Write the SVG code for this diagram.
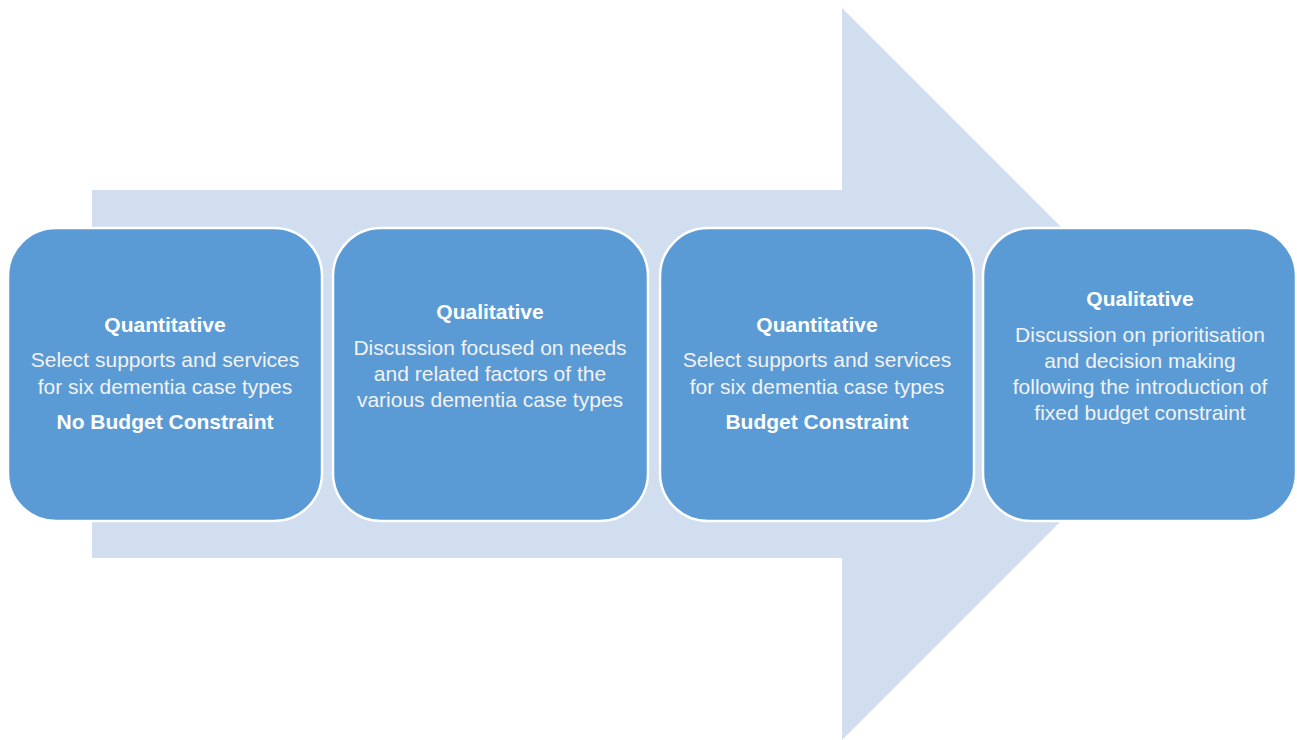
<svg xmlns="http://www.w3.org/2000/svg" width="1297" height="740" viewBox="0 0 1297 740">
<style>
.box{fill:#5B9BD5;stroke:#FFFFFF;stroke-width:2.5}
.t{font-family:"Liberation Sans",Arial,sans-serif;font-size:21px;fill:#F2F2F2;text-anchor:middle}
.b{font-weight:bold;fill:#FFFFFF}
</style>
<rect width="1297" height="740" fill="#FFFFFF"/>
<g id="arrow">
<polygon points="92,190 842,190 842,8 1208,374 842,740 842,558 92,558" fill="#D1DEEF"/>
</g>
<g id="connectors"></g>
<g id="node1">
<rect class="box" x="8" y="228" width="314" height="293" rx="48"/>
<text class="t b" x="165" y="332">Quantitative</text>
<text class="t" x="165" y="367">Select supports and services</text>
<text class="t" x="165" y="394">for six dementia case types</text>
<text class="t b" x="165" y="429">No Budget Constraint</text>
</g>
<g id="node2">
<rect class="box" x="333" y="228" width="315" height="293" rx="48"/>
<text class="t b" x="490" y="319">Qualitative</text>
<text class="t" x="490" y="355">Discussion focused on needs</text>
<text class="t" x="490" y="381">and related factors of the</text>
<text class="t" x="490" y="407">various dementia case types</text>
</g>
<g id="node3">
<rect class="box" x="660" y="228" width="314" height="293" rx="48"/>
<text class="t b" x="817" y="332">Quantitative</text>
<text class="t" x="817" y="367">Select supports and services</text>
<text class="t" x="817" y="394">for six dementia  case types</text>
<text class="t b" x="817" y="429">Budget Constraint</text>
</g>
<g id="node4">
<rect class="box" x="983" y="228" width="313" height="293" rx="48"/>
<text class="t b" x="1140" y="306">Qualitative</text>
<text class="t" x="1140" y="342">Discussion on prioritisation</text>
<text class="t" x="1140" y="368">and decision making</text>
<text class="t" x="1140" y="394">following the introduction of</text>
<text class="t" x="1140" y="420">fixed budget constraint</text>
</g>
</svg>
